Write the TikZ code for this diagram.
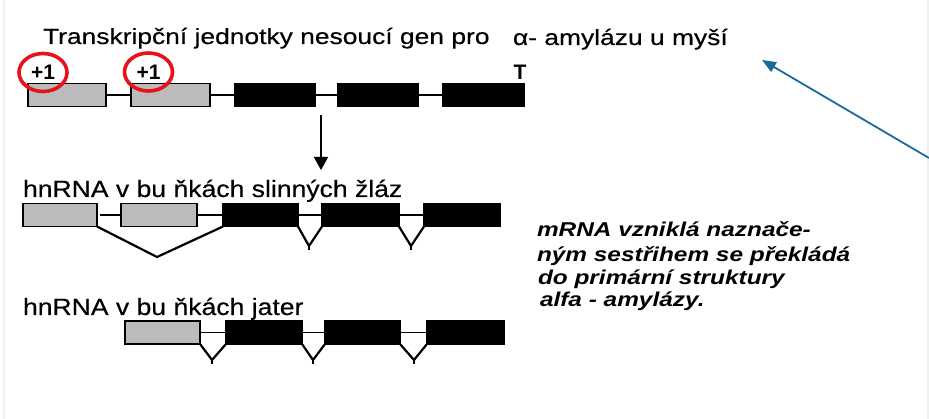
\documentclass[tikz,border=0pt]{standalone}
\usepackage{fontspec}
\setmainfont{Liberation Sans}
\newfontfamily\widesans[FakeStretch=1.2,FakeBold=0.4]{Liberation Sans}
\newfontfamily\labelsans[FakeStretch=1.13,FakeBold=0.4]{Liberation Sans}
\newfontfamily\notesans[FakeStretch=1.22]{Liberation Sans}
\usetikzlibrary{
arrows.meta,
positioning,
shapes.geometric
}
\definecolor{ExonGray}{HTML}{BBBBBB}
\definecolor{MarkRed}{HTML}{E5141B}
\definecolor{PointerBlue}{HTML}{1B6A9C}
\definecolor{FrameGray}{HTML}{EDF1ED}

\begin{document}
\begin{tikzpicture}[x=1pt,y=-1pt,>=Latex,every node/.style={inner sep=0pt, outer sep=0pt}, exon/.style={draw, line width=1.6pt, minimum height=23pt}, ncexon/.style={exon, fill=ExonGray, minimum width=#1}, cexon/.style={exon, fill=black, minimum width=#1}, intron/.style={line width=1.6pt}, splice/.style={line width=2.2pt}, label/.style={anchor=base west, font=\widesans\fontsize{22}{26}\selectfont}, rowlabel/.style={anchor=base west, font=\labelsans\fontsize{23.5}{28}\selectfont}, noteline/.style={anchor=base west, font=\notesans\bfseries\itshape\fontsize{20}{24}\selectfont}, startmark/.style={ellipse, draw=MarkRed, line width=3.6pt, minimum width=48pt, minimum height=38pt, font=\bfseries\fontsize{21}{24}\selectfont}]
        \useasboundingbox (0,0) rectangle (929,419);
        \draw[FrameGray, line width=2pt] (4,0) -- (4,419);
        \draw[FrameGray, line width=2pt] (928,0) -- (928,419);
        % transkripcni jednotka
        \node[label] (title) at (43,44) {Transkripční jednotky nesoucí gen pro};
        \node[label] (titlealpha) at (513,45) {α- amylázu u myší};
        \node[ncexon=78] (a1) at (67,95) {};
        \node[ncexon=79] (a2) at (170.5,95) {};
        \node[cexon=80] (a3) at (275,95) {};
        \node[cexon=80] (a4) at (378,95) {};
        \node[cexon=81] (a5) at (483.5,95) {};
        \draw[intron] (a1.east) -- (a2.west);
        \draw[intron] (a2.east) -- (a3.west);
        \draw[intron] (a3.east) -- (a4.west);
        \draw[intron] (a4.east) -- (a5.west);
        \node[startmark] (start1) at (43,72.5) {+1};
        \node[startmark] (start2) at (148.5,72) {+1};
        \node[anchor=base, font=\bfseries\fontsize{21}{24}\selectfont] (term) at (520,80) {T};
        \coordinate (down1) at (321,115);
        \coordinate (down2) at (321,170);
        \draw[-{Triangle[length=13pt,width=14pt]}, line width=1.6pt] (down1) -- (down2);
        % slinne zlazy
        \node[rowlabel] (salivary) at (23,197) {hnRNA v bu ňkách slinných žláz};
        \node[ncexon=74] (b1) at (60,215) {};
        \node[ncexon=76] (b2) at (159,215) {};
        \node[cexon=75] (b3) at (260.5,215) {};
        \node[cexon=77] (b4) at (360.5,215) {};
        \node[cexon=76] (b5) at (462,215) {};
        \draw[intron] ([xshift=3pt]b1.east) -- (b2.west);
        \draw[intron] (b2.east) -- (b3.west);
        \draw[intron] (b3.east) -- (b4.west);
        \draw[intron] (b4.east) -- (b5.west);
        \coordinate (sb1) at (157,257);
        \coordinate (sb2) at (309,246);
        \coordinate (sb3) at (411,246);
        \draw[splice] (b1.south east) -- (sb1) -- (b3.south west);
        \draw[splice] (b3.south east) -- (sb2) -- (b4.south west);
        \draw[splice] (sb2) -- ++(0,4);
        \draw[splice] (b4.south east) -- (sb3) -- (b5.south west);
        \draw[splice] (sb3) -- ++(0,4);
        % jatra
        \node[rowlabel] (liver) at (23,315) {hnRNA v bu ňkách jater};
        \node[ncexon=75] (c1) at (162.5,332.5) {};
        \node[cexon=76] (c2) at (264,332.5) {};
        \node[cexon=75] (c3) at (362.5,332.5) {};
        \node[cexon=77] (c4) at (465.5,332.5) {};
        \draw[intron] (c1.east) -- (c2.west);
        \draw[intron] (c2.east) -- (c3.west);
        \draw[intron] (c3.east) -- (c4.west);
        \coordinate (sc1) at (212,360);
        \coordinate (sc2) at (313,360);
        \coordinate (sc3) at (414,360);
        \draw[splice] (c1.south east) -- (sc1) -- (c2.south west);
        \draw[splice] (sc1) -- ++(0,4);
        \draw[splice] (c2.south east) -- (sc2) -- (c3.south west);
        \draw[splice] (sc2) -- ++(0,4);
        \draw[splice] (c3.south east) -- (sc3) -- (c4.south west);
        \draw[splice] (sc3) -- ++(0,4);
        % poznamka
        \node[noteline] (note1) at (537,237) {mRNA vzniklá naznače-};
        \node[noteline] (note2) at (537,262) {ným sestřihem se překládá};
        \node[noteline] (note3) at (538,285) {do primární struktury};
        \node[noteline] (note4) at (540,307) {alfa - amylázy.};
        % ukazatel
        \coordinate (ptrfrom) at (929,158);
        \coordinate (ptrto) at (762,60);
        \draw[-{Triangle[length=14pt,width=11pt]}, PointerBlue, line width=1.8pt] (ptrfrom) -- (ptrto);
    \end{tikzpicture}
\end{document}
